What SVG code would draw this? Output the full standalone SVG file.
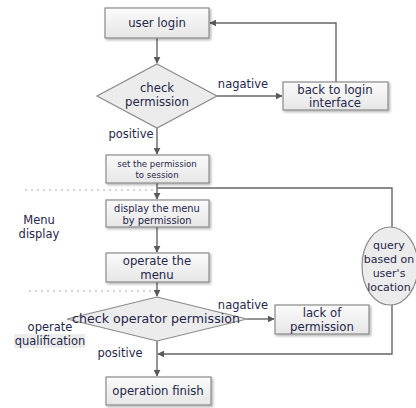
<svg xmlns="http://www.w3.org/2000/svg" width="416" height="408" viewBox="0 0 416 408">
  <defs>
    <linearGradient id="boxFill" x1="0" y1="0" x2="0" y2="1">
      <stop offset="0" stop-color="#fbfbfb"/>
      <stop offset="1" stop-color="#e6e6e6"/>
    </linearGradient>
    <filter id="shadow" x="-10%" y="-10%" width="130%" height="140%">
      <feDropShadow dx="1.5" dy="1.5" stdDeviation="0.8" flood-color="#000" flood-opacity="0.3"/>
    </filter>
    <marker id="arrow" viewBox="0 0 10 10" refX="9" refY="5" markerWidth="7" markerHeight="7" markerUnits="userSpaceOnUse" orient="auto">
      <path d="M0,0 L10,5 L0,10 z" fill="#5a5a5a"/>
    </marker>
  </defs>
  <style>
    .box { fill: url(#boxFill); stroke: #8a8a8a; stroke-width: 1.2; filter: url(#shadow); }
    .dia { fill: #ececec; stroke: #8a8a8a; stroke-width: 1.2; }
    .conn { fill: none; stroke: #666; stroke-width: 1.4; }
    .dash { fill: none; stroke: #aaa; stroke-width: 1.2; stroke-dasharray: 2 4; }
    text { font-family: "DejaVu Sans", Verdana, sans-serif; fill: #26264a; text-anchor: middle; }
    .t11 { font-size: 11.7px; }
    .t12 { font-size: 12.6px; }
    .t9 { font-size: 9.9px; }
    .t8 { font-size: 8.6px; }
    .tq { font-size: 11px; }
    .lbl { font-size: 11.5px; }
  </style>

  <rect width="416" height="408" fill="#ffffff"/>

  <!-- section separators -->
  <g id="separators">
    <line class="dash" x1="25" y1="190" x2="155" y2="190"/>
    <line class="dash" x1="29" y1="291" x2="152" y2="291"/>
  </g>

  <!-- connectors -->
  <g id="connectors">
    <line class="conn" x1="157" y1="38" x2="157" y2="63" marker-end="url(#arrow)"/>
    <line class="conn" x1="217" y1="96" x2="282" y2="96" marker-end="url(#arrow)"/>
    <polyline class="conn" points="336,82 336,23 210,23" marker-end="url(#arrow)"/>
    <line class="conn" x1="157" y1="128" x2="157" y2="154" marker-end="url(#arrow)"/>
    <line class="conn" x1="157" y1="183" x2="157" y2="199" marker-end="url(#arrow)"/>
    <polyline class="conn" points="157,188 392,188 392,227"/>
    <line class="conn" x1="157" y1="227" x2="157" y2="252" marker-end="url(#arrow)"/>
    <line class="conn" x1="157" y1="282" x2="157" y2="296" marker-end="url(#arrow)"/>
    <line class="conn" x1="247" y1="319" x2="274" y2="319" marker-end="url(#arrow)"/>
    <polyline class="conn" points="392,305 392,354 158,354" marker-end="url(#arrow)"/>
    <line class="conn" x1="157" y1="341" x2="157" y2="376" marker-end="url(#arrow)"/>
  </g>

  <!-- connector labels -->
  <g id="labels">
    <text class="lbl" x="243" y="88">nagative</text>
    <text class="lbl" x="131" y="138">positive</text>
    <text class="lbl" x="243" y="309">nagative</text>
    <text class="lbl" x="120" y="357">positive</text>
  </g>

  <!-- swimlane captions -->
  <g id="menu-display">
    <text class="lbl" x="39" y="224">Menu</text>
    <text class="lbl" x="39" y="238">display</text>
  </g>
  <g id="operate-qualification">
    <rect x="14" y="334" width="71" height="14" fill="#ececec"/>
    <text class="lbl" x="50" y="331">operate</text>
    <text class="lbl" x="50" y="345">qualification</text>
  </g>

  <!-- nodes -->
  <g id="user-login">
    <rect class="box" x="105" y="8" width="104" height="30"/>
    <text class="t11" x="157" y="27">user login</text>
  </g>

  <g id="check-permission">
    <polygon class="dia" points="157,64 217,96 157,128 97,96"/>
    <text class="t11" x="157" y="92">check</text>
    <text class="t11" x="157" y="106">permission</text>
  </g>

  <g id="back-to-login">
    <rect class="box" x="283" y="82" width="105" height="28"/>
    <text class="t11" x="335" y="94">back to login</text>
    <text class="t11" x="335" y="107">interface</text>
  </g>

  <g id="set-permission">
    <rect class="box" x="106" y="155" width="103" height="28"/>
    <text class="t8" x="157" y="167">set the permission</text>
    <text class="t8" x="157" y="178">to session</text>
  </g>

  <g id="display-menu">
    <rect class="box" x="106" y="200" width="103" height="27"/>
    <text class="t9" x="157" y="212">display the menu</text>
    <text class="t9" x="157" y="224">by permission</text>
  </g>

  <g id="operate-menu">
    <rect class="box" x="106" y="253" width="103" height="29"/>
    <text class="t11" x="157" y="265">operate the</text>
    <text class="t11" x="157" y="279">menu</text>
  </g>

  <g id="check-operator-permission">
    <polygon class="dia" points="157,297 247,319 157,341 67,319"/>
    <text class="t12" x="156" y="323">check operator permission</text>
  </g>

  <g id="lack-of-permission">
    <rect class="box" x="275" y="305" width="94" height="29"/>
    <text class="t11" x="322" y="317">lack of</text>
    <text class="t11" x="322" y="331">permission</text>
  </g>

  <g id="query-location">
    <ellipse cx="390" cy="266" rx="28" ry="39" fill="#ececec" stroke="#8a8a8a" stroke-width="1.2"/>
    <text class="tq" x="389" y="249">query</text>
    <text class="tq" x="389" y="263">based on</text>
    <text class="tq" x="389" y="277">user's</text>
    <text class="tq" x="389" y="291">location</text>
  </g>

  <g id="operation-finish">
    <rect class="box" x="106" y="377" width="105" height="28"/>
    <text class="t11" x="158" y="395">operation finish</text>
  </g>
</svg>
